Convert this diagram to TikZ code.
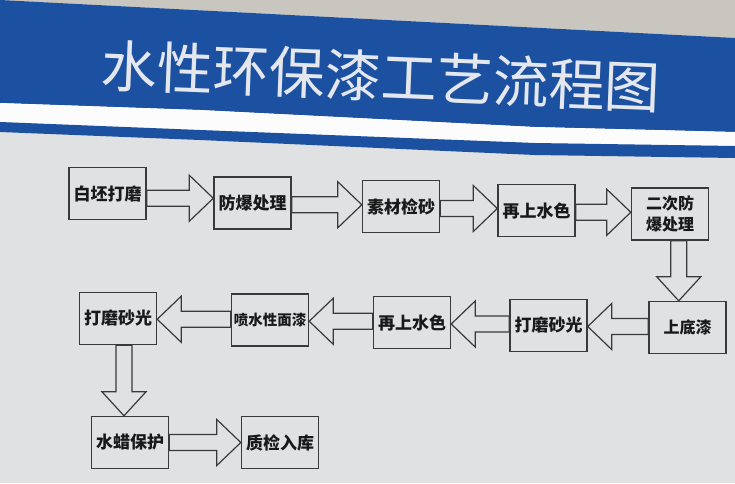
\documentclass[tikz,border=0pt]{standalone}
\usepackage{fontspec}
\setmainfont{Noto Sans CJK SC}
\usetikzlibrary{calc}

\definecolor{signblue}{HTML}{1C51A2}
\definecolor{panelgray}{HTML}{DFE1E3}
\definecolor{wallgray}{HTML}{C9C6C0}
\definecolor{linegray}{HTML}{3A3A3A}
\definecolor{titlewhite}{HTML}{E4E8EE}

\tikzset{
  stepbox/.style={draw=linegray, line width=1.4pt, minimum width=77pt, minimum height=52pt,
    inner sep=1pt, align=center, text=black!90, font=\bfseries\fontsize{17}{19}\selectfont},
  fatline/.style={draw=linegray, line width=1.2pt, line join=miter},
  % hollow arrow, horizontal
  hfat/.style={fatline, to path={let \p1=(\tikztostart), \p2=(\tikztotarget),
    \n1={(\y1+\y2)/2}, \n2={\x1}, \n3={\x2}, \n4={\x2-24*sign(\x2-\x1)} in
    (\n2,\n1+8) -- (\n4,\n1+8) -- (\n4,\n1+23) -- (\n3,\n1) -- (\n4,\n1-23) -- (\n4,\n1-8) -- (\n2,\n1-8) -- cycle}},
  % hollow arrow, vertical
  vfat/.style={fatline, to path={let \p1=(\tikztostart), \p2=(\tikztotarget),
    \n1={(\x1+\x2)/2}, \n2={\y1}, \n3={\y2}, \n4={\y2-24*sign(\y2-\y1)} in
    (\n1+8,\n2) -- (\n1+8,\n4) -- (\n1+22,\n4) -- (\n1,\n3) -- (\n1-22,\n4) -- (\n1-8,\n4) -- (\n1-8,\n2) -- cycle}}
}

\begin{document}
\begin{tikzpicture}[x=1pt,y=1pt]
    \useasboundingbox (0,0) rectangle (735,-483);

    % Panel and wall
    \fill[panelgray] (0,0) rectangle (735,-483);
    \fill[wallgray] (0,0) -- (735,0) -- (735,-38) -- cycle;

    % Header band with stripe
    \fill[signblue] (0,0) -- (735,-38) -- (735,-132) -- (535,-127) -- (200,-110) -- (0,-103) -- cycle;
    \fill[white!90!panelgray] (0,-103) -- (200,-110) -- (535,-127) -- (735,-132) -- (735,-146) -- (535,-143) -- (200,-130) -- (0,-122) -- cycle;
    \fill[signblue] (0,-122) -- (200,-130) -- (535,-143) -- (735,-146) -- (735,-158) -- (535,-155) -- (200,-140) -- (0,-132) -- cycle;
    \node[text=titlewhite, rotate=-2.3, inner sep=0pt, font=\fontsize{56}{60}\selectfont] (title) at (381,-76) {水性环保漆工艺流程图};

    % Row 1
    \node[stepbox] (baipi)   at (107.5,-193.5) {白坯打磨};
    \node[stepbox] (fangbao) at (252.5,-203)   {防爆处理};
    \node[stepbox] (sucai)   at (401,-206.5)   {素材检砂};
    \node[stepbox] (shuise1) at (536.5,-210.5) {再上水色};
    \node[stepbox, font=\bfseries\fontsize{16}{21}\selectfont] (ercifb) at (670,-214) {二次防\\爆处理};

    % Row 2
    \node[stepbox, font=\bfseries\fontsize{16}{19}\selectfont] (didi) at (687.5,-327.5) {上底漆};
    \node[stepbox] (damo1)   at (548.5,-325.5) {打磨砂光};
    \node[stepbox] (shuise2) at (412,-322.5)   {再上水色};
    \node[stepbox, font=\bfseries\fontsize{14.5}{17}\selectfont] (mianqi) at (270,-320) {喷水性面漆};
    \node[stepbox] (damo2)   at (118,-318.5)   {打磨砂光};

    % Row 3
    \node[stepbox] (shuila)  at (130,-442.5)   {水蜡保护};
    \node[stepbox] (zhijian) at (280,-442.5)   {质检入库};

    % Arrows
    \draw[hfat] (baipi.east) to (fangbao.west);
    \draw[hfat] (fangbao.east) to (sucai.west);
    \draw[hfat] (sucai.east) to (shuise1.west);
    \draw[hfat] (shuise1.east) to (ercifb.west);
    \draw[vfat] (ercifb.south) to (didi.north);
    \draw[hfat] (didi.west) to (damo1.east);
    \draw[hfat] (damo1.west) to (shuise2.east);
    \draw[hfat] (shuise2.west) to (mianqi.east);
    \draw[hfat] (mianqi.west) to (damo2.east);
    \draw[vfat] (damo2.south) to (shuila.north);
    \draw[hfat] (shuila.east) to (zhijian.west);

\end{tikzpicture}
\end{document}
